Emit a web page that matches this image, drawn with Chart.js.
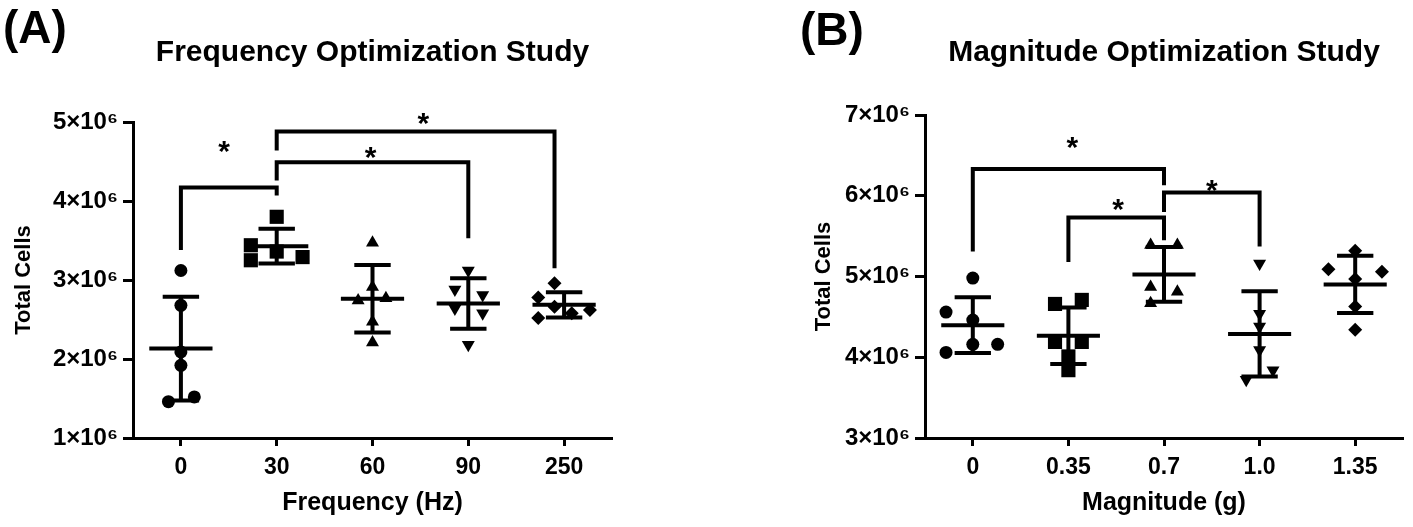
<!DOCTYPE html>
<html>
<head>
<meta charset="utf-8">
<script src="https://cdn.jsdelivr.net/npm/chart.js@4.4.1/dist/chart.umd.min.js"></script>
<style>
  html, body { margin:0; padding:0; background:#fff; }
  #wrap { position:relative; width:1413px; height:527px; overflow:hidden; }
  #chartA { position:absolute; left:0; top:0; }
  #chartB { position:absolute; left:700px; top:0; }
</style>
</head>
<body>
<div id="wrap">
  <canvas id="chartA" width="700" height="527"></canvas>
  <canvas id="chartB" width="713" height="527"></canvas>
</div>
<script>
// values in units of 10^6 cells
const freqLabels = ['0', '30', '60', '90', '250'];
const freqCells = [
  [3.12, 2.68, 2.09, 1.92, 1.46, 1.52],
  [3.80, 3.44, 3.25, 3.36, 3.29],
  [3.47, 2.91, 2.74, 2.77, 2.47, 2.21],
  [3.12, 2.88, 2.81, 2.64, 2.58, 2.18],
  [2.96, 2.78, 2.66, 2.52, 2.58, 2.62]
];
const freqJitter = [
  [0, 0, 0, 0, -0.13, 0.14],
  [0, -0.27, -0.27, 0, 0.27],
  [0, 0, -0.15, 0.14, 0, 0],
  [0, -0.14, 0.15, -0.14, 0.15, 0],
  [-0.1, -0.27, -0.1, -0.27, 0.08, 0.27]
];
// [from, to, bar height, left leg end, right leg end]
const freqBrackets = [
  [0, 1, 4.17, 3.38, 4.07],
  [1, 3, 4.49, 4.26, 3.53],
  [1, 3.9, 4.88, 4.64, 3.15]
];
const freqStars = [[0.45, 4.73], [1.98, 4.65], [2.53, 5.08]];

const magLabels = ['0', '0.35', '0.7', '1.0', '1.35'];
const magCells = [
  [4.98, 4.56, 4.46, 4.16, 4.06, 4.16],
  [4.66, 4.71, 4.19, 4.19, 4.01, 3.84],
  [5.39, 5.39, 4.87, 4.81, 4.67],
  [5.16, 4.54, 4.38, 4.09, 3.84, 3.72],
  [5.32, 5.09, 5.06, 4.97, 4.63, 4.34]
];
const magJitter = [
  [0, -0.28, 0, 0, -0.28, 0.26],
  [-0.14, 0.14, -0.14, 0.14, 0, 0],
  [-0.14, 0.14, -0.14, 0.14, -0.14],
  [0, 0, 0, 0, 0.14, -0.14],
  [0, -0.28, 0.28, 0, 0, 0]
];
const magBrackets = [
  [0, 2, 6.33, 5.31, 6.13],
  [1, 2, 5.73, 5.18, 5.45],
  [2, 3, 6.04, 5.80, 5.37]
];
const magStars = [[1.04, 6.69], [1.52, 5.93], [2.5, 6.16]];

const markers = ['circle', 'rect', 'triangle', 'triangle', 'rectRot'];
const markerRot = [0, 0, 0, 180, 0];
const markerSize = [6.5, 10, 7.5, 7.5, 7];

const FONT = '"Liberation Sans", Arial, Helvetica, sans-serif';
Chart.defaults.font.family = FONT;
Chart.defaults.color = '#000';

function meanSd(arr){
  const m = arr.reduce((s, v) => s + v, 0) / arr.length;
  const sd = Math.sqrt(arr.reduce((s, v) => s + (v - m) * (v - m), 0) / (arr.length - 1));
  return [m, sd];
}

// mean/SD bars, significance brackets and stars
function statsPlugin(cells, brackets, stars, letter){
  return {
    id: 'stats',
    afterDatasetsDraw(chart){
      const {ctx, scales: {x, y}} = chart;
      ctx.save();
      ctx.strokeStyle = '#000';
      ctx.lineCap = 'butt';
      ctx.lineWidth = 4;
      cells.forEach((arr, i) => {
        const [m, sd] = meanSd(arr);
        const cx = x.getPixelForValue(i);
        const w = x.getPixelForValue(i + 0.33) - cx;
        const c = x.getPixelForValue(i + 0.19) - cx;
        const yt = y.getPixelForValue(m + sd), yb = y.getPixelForValue(m - sd), ym = y.getPixelForValue(m);
        ctx.beginPath();
        ctx.moveTo(cx - w, ym); ctx.lineTo(cx + w, ym);
        ctx.moveTo(cx, yt); ctx.lineTo(cx, yb);
        ctx.moveTo(cx - c, yt); ctx.lineTo(cx + c, yt);
        ctx.moveTo(cx - c, yb); ctx.lineTo(cx + c, yb);
        ctx.stroke();
      });
      ctx.lineJoin = 'miter';
      brackets.forEach(b => {
        const x1 = x.getPixelForValue(b[0]), x2 = x.getPixelForValue(b[1]);
        const yb = y.getPixelForValue(b[2]);
        ctx.beginPath();
        ctx.moveTo(x1, y.getPixelForValue(b[3]));
        ctx.lineTo(x1, yb);
        ctx.lineTo(x2, yb);
        ctx.lineTo(x2, y.getPixelForValue(b[4]));
        ctx.stroke();
      });
      ctx.fillStyle = '#000';
      ctx.font = 'bold 30px ' + FONT;
      ctx.textAlign = 'center';
      ctx.textBaseline = 'alphabetic';
      stars.forEach(s => {
        ctx.fillText('*', x.getPixelForValue(s[0]), y.getPixelForValue(s[1]) + 0.58 * 30);
      });
      // panel letter
      ctx.font = 'bold 46px ' + FONT;
      ctx.textAlign = 'left';
      ctx.fillText(letter[0], letter[1], letter[2]);
      ctx.restore();
    }
  };
}

function makeChart(id, labels, cells, jitter, brackets, stars, cfg){
  const datasets = cells.map((arr, i) => ({
    data: arr.map((v, j) => ({x: i + jitter[i][j], y: v})),
    pointStyle: markers[i],
    rotation: markerRot[i],
    pointRadius: markerSize[i],
    pointBackgroundColor: '#000',
    pointBorderColor: '#000',
    pointBorderWidth: 0,
    showLine: false
  }));
  return new Chart(document.getElementById(id), {
    type: 'scatter',
    data: { datasets },
    options: {
      responsive: false,
      animation: false,
      layout: { padding: { left: cfg.padLeft, right: cfg.padRight, top: 0, bottom: 0 } },
      plugins: {
        legend: { display: false },
        tooltip: { enabled: false },
        title: {
          display: true, text: cfg.title, fullSize: false,
          font: { size: 30, weight: 'bold' }, color: '#000',
          padding: { top: 35, bottom: cfg.titleBottom }
        }
      },
      scales: {
        x: {
          type: 'linear', min: -0.5, max: 4.5,
          afterBuildTicks: s => { s.ticks = labels.map((_, i) => ({ value: i })); },
          ticks: { callback: v => labels[v], font: { size: 23, weight: 'bold' }, color: '#000', padding: 8, autoSkip: false, maxRotation: 0 },
          grid: { drawOnChartArea: false, drawTicks: true, tickLength: 8, tickWidth: 3, tickColor: '#000' },
          border: { display: true, color: '#000', width: 3 },
          title: { display: true, text: cfg.xTitle, font: { size: 25, weight: 'bold' }, color: '#000', padding: { top: 0, bottom: 9 } },
          afterFit: s => { s.height = 89; }
        },
        y: {
          min: cfg.yMin, max: cfg.yMax,
          ticks: { stepSize: 1, callback: v => v + '×10⁶', font: { size: 24, weight: 'bold' }, color: '#000', padding: 5 },
          grid: { drawOnChartArea: false, drawTicks: true, tickLength: 10, tickWidth: 3, tickColor: '#000' },
          border: { display: true, color: '#000', width: 3 },
          title: { display: true, text: 'Total Cells', font: { size: 22, weight: 'bold' }, color: '#000', padding: { top: 11, bottom: 0 } },
          afterFit: s => { s.width = cfg.yWidth; }
        }
      }
    },
    plugins: [statsPlugin(cells, brackets, stars, cfg.letter)]
  });
}

makeChart('chartA', freqLabels, freqCells, freqJitter, freqBrackets, freqStars, {
  title: 'Frequency Optimization Study', xTitle: 'Frequency (Hz)',
  yMin: 1, yMax: 5, padLeft: 0, padRight: 88, yWidth: 133, titleBottom: 51,
  letter: ['(A)', 3, 43]
});
makeChart('chartB', magLabels, magCells, magJitter, magBrackets, magStars, {
  title: 'Magnitude Optimization Study', xTitle: 'Magnitude (g)',
  yMin: 3, yMax: 7, padLeft: 100, padRight: 5, yWidth: 125, titleBottom: 44,
  letter: ['(B)', 100, 45]
});
</script>
</body>
</html>
